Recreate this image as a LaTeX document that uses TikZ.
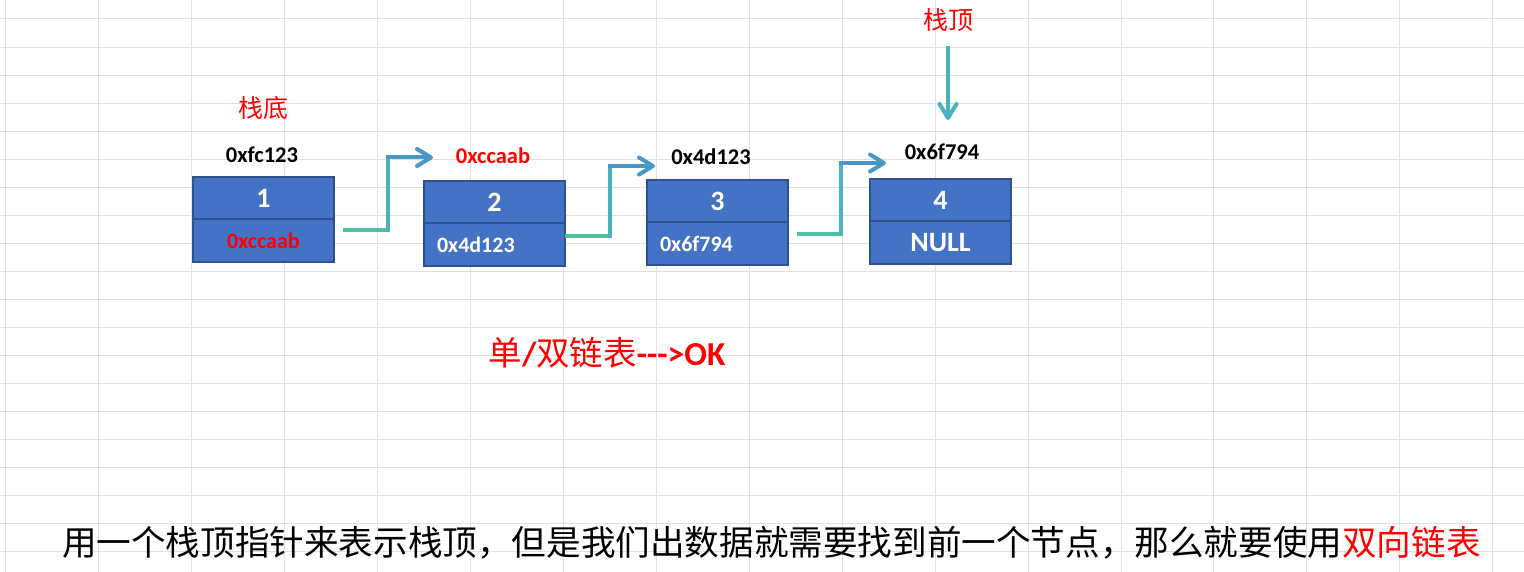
\documentclass[tikz,border=0pt]{standalone}
\usepackage{fontspec}
\setmainfont{Carlito}
\newfontfamily\cjk{Noto Sans CJK SC}
\usetikzlibrary{positioning,arrows.meta}

\definecolor{cellblue}{HTML}{4472C4}
\definecolor{cellline}{HTML}{2F528F}
\definecolor{gridgray}{HTML}{E0E0E0}
\definecolor{arrgreen}{HTML}{4CC98F}
\definecolor{arrteal}{HTML}{4AB3BE}
\definecolor{arrblue}{HTML}{4A86CC}

\tikzset{
    cell/.style={draw=cellline, fill=cellblue, line width=2pt, outer sep=0pt, minimum width=141pt, minimum height=42.5pt, inner sep=0pt, text=white, font=\fontsize{28}{32}\selectfont\bfseries},
    ccell/.style={cell, font=\fontsize{22}{26}\selectfont\bfseries},
    lcell/.style={ccell, inner xsep=13pt, text width=115pt, align=left},
    addr/.style={inner sep=0pt, font=\fontsize{22.5}{26}\selectfont\bfseries},
    tag/.style={inner sep=0pt, text=red, font=\fontsize{25}{30}\selectfont\cjk},
    wire/.style={line width=4pt, line cap=rect},
    chev/.style={-{Straight Barb[length=14pt,width=17pt,round]}},
    sheetline/.style={gridgray, line width=1pt}
}

\newcommand{\listnode}[6]{
    \pgfmathsetmacro \boxx {#2+71.5}
    \pgfmathsetmacro \boxy {#3+22.25}
    % data field on top, next field below it
    \node[cell] (#1) at (\boxx,\boxy) {#4};
    \node[#5, below=0pt of #1] (#1b) {#6};
}

\begin{document}
\begin{tikzpicture}[x=1pt,y=-1pt]
    \useasboundingbox (0,0) rectangle (1524,572);
    \fill[white] (0,0) rectangle (1524,572);

    % sheet grid
    \foreach \gx in {0,...,16}
        \draw[sheetline] ({5.6+92.95*\gx},0) -- ({5.6+92.95*\gx},572);
    \foreach \gy in {0,...,19}
        \draw[sheetline] (0,{19+28.05*\gy}) -- (1524,{19+28.05*\gy});

    % the four nodes
    \listnode{n1}{192}{176}{1}{ccell, text=red}{0xccaab}
    \listnode{n2}{423}{180}{2}{lcell}{0x4d123}
    \listnode{n3}{646}{179}{3}{lcell}{0x6f794}
    \listnode{n4}{869}{178}{4}{cell}{NULL}

    % addresses
    \draw[] node[addr] (a1) at (262,155) {0xfc123};
    \draw[] node[addr, text=red] (a2) at (493,156) {0xccaab};
    \draw[] node[addr] (a3) at (711,157) {0x4d123};
    \draw[] node[addr] (a4) at (942,152) {0x6f794};

    \draw[] node[tag] (bottom) at (263,108) {栈底};
    \draw[] node[tag] (top) at (948,20) {栈顶};

    % next pointers
    \coordinate (s1) at ([xshift=11pt,yshift=11pt]n1b.east);
    \coordinate (k1) at ([xshift=43pt]s1);
    \coordinate (t1) at (433,157.5);
    \draw[wire, arrgreen!65!arrteal] (s1) -- (k1);
    \draw[wire, arrteal] (k1) -- (k1 |- t1);
    \draw[wire, chev, arrteal!35!arrblue] (k1 |- t1) -- (t1);

    \coordinate (s2) at ([xshift=2pt,yshift=8.5pt]n2b.east);
    \coordinate (k2) at ([xshift=43pt]s2);
    \coordinate (t2) at (655,166);
    \draw[wire, arrgreen!65!arrteal] (s2) -- (k2);
    \draw[wire, arrteal] (k2) -- (k2 |- t2);
    \draw[wire, chev, arrteal!35!arrblue] (k2 |- t2) -- (t2);

    \coordinate (s3) at ([xshift=11pt,yshift=10pt]n3b.east);
    \coordinate (k3) at ([xshift=42pt]s3);
    \coordinate (t3) at (886,163);
    \draw[wire, arrgreen!65!arrteal] (s3) -- (k3);
    \draw[wire, arrteal] (k3) -- (k3 |- t3);
    \draw[wire, chev, arrteal!35!arrblue] (k3 |- t3) -- (t3);

    % top of stack
    \coordinate (s4) at (948,48);
    \coordinate (t4) at (948,120);
    \draw[wire, chev, arrteal] (s4) -- (t4);

    \draw[] node[inner sep=0pt, text=red, font=\fontsize{33.5}{40}\selectfont\bfseries] (ok) at (607,353) {{\cjk\mdseries 单}/{\cjk\mdseries 双链表}-{}-{}->OK};

    \draw[] node[anchor=west, inner sep=0pt, font=\fontsize{34.6}{40}\selectfont\cjk] (note) at (62,543) {用一个栈顶指针来表示栈顶，但是我们出数据就需要找到前一个节点，那么就要使用\textcolor{red}{双向链表}};
\end{tikzpicture}
\end{document}
